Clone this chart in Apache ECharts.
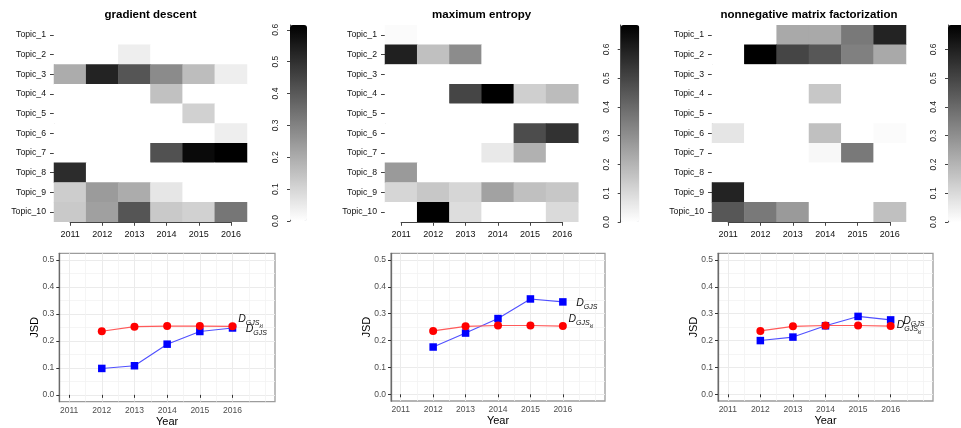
<!DOCTYPE html>
<html><head><meta charset="utf-8">
<script src="https://cdn.jsdelivr.net/npm/echarts@6/dist/echarts.min.js"></script>
<style>html,body{margin:0;padding:0;background:#fff}#c{width:961px;height:428px}</style>
</head><body><div id="c"></div>
<script>
// ---------- data ----------
const years = ['2011','2012','2013','2014','2015','2016'];
const topics = ['Topic_1','Topic_2','Topic_3','Topic_4','Topic_5','Topic_6','Topic_7','Topic_8','Topic_9','Topic_10'];
const titles = ['gradient descent','maximum entropy','nonnegative matrix factorization'];

// rows = topics, columns = years
const gdMatrix = [
  [0,0,0,0,0,0],
  [0,0,0.04,0,0,0],
  [0.20,0.53,0.41,0.28,0.16,0.04],
  [0,0,0,0.15,0,0],
  [0,0,0,0,0.11,0],
  [0,0,0,0,0,0.04],
  [0,0,0,0.42,0.59,0.615],
  [0.51,0,0,0,0,0],
  [0.12,0.24,0.20,0.06,0,0],
  [0.13,0.23,0.41,0.13,0.11,0.33]
];
const meMatrix = [
  [0.01,0,0,0,0,0],
  [0.60,0.17,0.31,0,0,0],
  [0,0,0,0,0,0],
  [0,0,0.50,0.685,0.13,0.18],
  [0,0,0,0,0,0],
  [0,0,0,0,0.48,0.55],
  [0,0,0,0.06,0.21,0],
  [0.27,0,0,0,0,0],
  [0.11,0.15,0.11,0.25,0.17,0.15],
  [0,0.685,0.09,0,0,0.10]
];
const nmfMatrix = [
  [0,0,0.23,0.23,0.36,0.59],
  [0,0.685,0.50,0.45,0.34,0.23],
  [0,0,0,0,0,0],
  [0,0,0,0.15,0,0],
  [0,0,0,0,0,0],
  [0.07,0,0,0.17,0,0.01],
  [0,0,0,0.02,0.36,0],
  [0,0,0,0,0,0],
  [0.59,0,0,0,0,0],
  [0.45,0.36,0.27,0,0,0.17]
];
const colorMax = [0.615, 0.685, 0.685];
const colorTicks = [0,0.1,0.2,0.3,0.4,0.5,0.6];

const jsdYears = [2012,2013,2014,2015,2016];
const gdJSD  = [0.098,0.108,0.188,0.235,0.248];
const gdKL   = [0.236,0.253,0.255,0.255,0.254];
const meJSD  = [0.176,0.228,0.282,0.355,0.344];
const meKL   = [0.236,0.253,0.256,0.256,0.254];
const nmfJSD = [0.200,0.213,0.255,0.290,0.277];
const nmfKL  = [0.236,0.253,0.256,0.256,0.254];
const yearTicks = [2011,2012,2013,2014,2015,2016];
const yearMinor = [2011.5,2012.5,2013.5,2014.5,2015.5,2016.5,2017];
const jsdTicks = [0,0.1,0.2,0.3,0.4,0.5];
const jsdMinor = [0.05,0.15,0.25,0.35,0.45];
// label anchor points (data coordinates) for D_GJS and D_GJS_kl
const gdAnn  = {plain:[2016.73,0.241], kl:[2016.55,0.278]};
const meAnn  = {plain:[2016.74,0.337], kl:[2016.55,0.277]};
const nmfAnn = {plain:[2016.71,0.272], kl:[2016.56,0.254]};

// ---------- layout ----------
const FONT = 'Liberation Sans, Arial, Helvetica, sans-serif';
const heatLayouts = [
  {cellLeft:54,  cellTop:25.2, cellW:193,   cellH:196.6, barLeft:290,   barTop:25, barW:17,   barH:196},
  {cellLeft:385, cellTop:25.2, cellW:193.3, cellH:196.6, barLeft:620.7, barTop:25, barW:18.6, barH:197},
  {cellLeft:712, cellTop:25.2, cellW:194,   cellH:196.6, barLeft:948,   barTop:25, barW:19,   barH:197}
];
const lineLayouts = [
  {left:59.3, top:253.3, width:215.7, height:148.3, xmin:2010.7, xmax:2017.3},
  {left:391,  top:253.3, width:214,   height:147.7, xmin:2010.7, xmax:2017.3},
  {left:718,  top:253.3, width:215,   height:147.7, xmin:2010.7, xmax:2017.3}
];

const grid=[], xAxis=[], yAxis=[], series=[], visualMap=[], graphic=[];

function addHeat(idx, matrix){
  const L = heatLayouts[idx];
  const maxVal = colorMax[idx];
  // cells
  let gi = grid.length;
  grid.push({left:L.cellLeft, top:L.cellTop, width:L.cellW, height:L.cellH});
  xAxis.push({type:'category', gridIndex:gi, data:years, show:false});
  yAxis.push({type:'category', gridIndex:gi, data:topics, inverse:true, show:false});
  const data=[];
  matrix.forEach((row,r)=>row.forEach((v,c)=>data.push([c,r,v])));
  const si = series.length;
  series.push({type:'heatmap', xAxisIndex:xAxis.length-1, yAxisIndex:yAxis.length-1, data,
    itemStyle:{borderWidth:0}, emphasis:{disabled:true}, silent:true});
  visualMap.push({type:'continuous', min:0, max:maxVal, seriesIndex:si, orient:'vertical',
    inRange:{color:['#ffffff','#000000']}, calculable:false, left:L.barLeft, top:L.barTop,
    itemWidth:L.barW, itemHeight:L.barH, padding:0, text:null, hoverLink:false});
  // axes in R style (line from first to last tick)
  const cw = L.cellW/years.length, rh = L.cellH/topics.length;
  gi = grid.length;
  grid.push({left:L.cellLeft+cw/2, top:L.cellTop+rh/2, width:L.cellW-cw, height:L.cellH-rh});
  const axLine = {show:true, lineStyle:{color:'#444', width:1}};
  xAxis.push({type:'category', gridIndex:gi, data:years, boundaryGap:false, position:'bottom', offset:rh/2,
    axisLine:axLine, axisTick:{show:true, length:4, interval:0, lineStyle:{color:'#444'}},
    axisLabel:{interval:0, fontSize:9, color:'#111', margin:8, fontFamily:FONT}, splitLine:{show:false}});
  yAxis.push({type:'category', gridIndex:gi, data:topics, inverse:true, boundaryGap:false, position:'left', offset:cw/2,
    axisLine:axLine, axisTick:{show:true, length:4, interval:0, lineStyle:{color:'#444'}},
    axisLabel:{interval:0, fontSize:8.7, color:'#111', margin:8, fontFamily:FONT}, splitLine:{show:false}});
  // colour bar axis
  gi = grid.length;
  grid.push({left:L.barLeft, top:L.barTop, width:L.barW, height:L.barH});
  xAxis.push({type:'value', gridIndex:gi, min:0, max:1, show:false});
  yAxis.push({type:'value', gridIndex:gi, min:0, max:maxVal, position:'left',
    axisLine:{show:true, lineStyle:{color:'#444', width:1}},
    axisTick:{show:true, length:3, customValues:colorTicks, lineStyle:{color:'#444'}},
    axisLabel:{customValues:colorTicks, rotate:90, fontSize:8.5, color:'#222', margin:9.5, fontFamily:FONT,
      formatter:v=>v.toFixed(1)},
    splitLine:{show:false}});
  graphic.push({type:'text', x:L.cellLeft+L.cellW/2, y:14.5, silent:true,
    style:{text:titles[idx], align:'center', verticalAlign:'middle', fontSize:11.5, fontWeight:'bold', fontFamily:FONT, fill:'#000'}});
}

const rich = {
  d:{fontSize:10.5, fontStyle:'italic', color:'#111', lineHeight:12, verticalAlign:'top', fontFamily:FONT},
  s:{fontSize:7, fontStyle:'italic', color:'#111', lineHeight:8, verticalAlign:'top', padding:[5.5,0,0,0], fontFamily:FONT},
  k:{fontSize:4.5, fontStyle:'italic', color:'#111', lineHeight:5, verticalAlign:'top', padding:[10.5,0,0,0], fontFamily:FONT}
};
function mark(coord, fmt){
  return {symbol:'circle', symbolSize:0, silent:true, animation:false,
    label:{show:true, position:'inside', formatter:fmt, rich, color:'#111'},
    data:[{coord}]};
}

function addLine(idx, jsd, kl, ann){
  const L = lineLayouts[idx];
  const gi = grid.length;
  grid.push({left:L.left, top:L.top, width:L.width, height:L.height, show:true, borderColor:'#9c9c9c', borderWidth:1.3, backgroundColor:'#fff'});
  const tickStyle = {color:'#333', width:1};
  xAxis.push({type:'value', gridIndex:gi, min:L.xmin, max:L.xmax, position:'bottom',
    name:'Year', nameLocation:'middle', nameGap:14, nameTextStyle:{fontSize:11, color:'#000', fontFamily:FONT, verticalAlign:'top'},
    axisLine:{show:false},
    axisTick:{show:true, length:3, customValues:yearTicks, lineStyle:tickStyle},
    axisLabel:{customValues:yearTicks, fontSize:8.5, color:'#4d4d4d', margin:4.5, fontFamily:FONT, formatter:v=>String(Math.round(v))},
    splitLine:{show:true, lineStyle:{color:'#ebebeb', width:1}}});
  const xMajor = xAxis.length-1;
  xAxis.push({type:'value', gridIndex:gi, min:L.xmin, max:L.xmax, position:'top',
    axisLine:{show:false}, axisTick:{show:false, customValues:yearMinor}, axisLabel:{show:false, customValues:yearMinor},
    splitLine:{show:true, lineStyle:{color:'#f3f3f3', width:0.8}}});
  yAxis.push({type:'value', gridIndex:gi, min:-0.025, max:0.525, position:'left',
    name:'JSD', nameLocation:'middle', nameGap:19, nameRotate:90, nameMoveOverlap:false,
    nameTextStyle:{fontSize:11, color:'#000', fontFamily:FONT},
    axisLine:{show:true, lineStyle:{color:'#6a6a6a', width:1.3}},
    axisTick:{show:true, length:3, customValues:jsdTicks, lineStyle:tickStyle},
    axisLabel:{customValues:jsdTicks, fontSize:8.5, color:'#4d4d4d', margin:5, fontFamily:FONT, formatter:v=>v.toFixed(1)},
    splitLine:{show:true, lineStyle:{color:'#ebebeb', width:1}}});
  const yMajor = yAxis.length-1;
  yAxis.push({type:'value', gridIndex:gi, min:-0.025, max:0.525, position:'right',
    axisLine:{show:false}, axisTick:{show:false, customValues:jsdMinor}, axisLabel:{show:false, customValues:jsdMinor},
    splitLine:{show:true, lineStyle:{color:'#f3f3f3', width:0.8}}});
  series.push({type:'line', xAxisIndex:xMajor, yAxisIndex:yMajor, data:jsdYears.map((y,i)=>[y,jsd[i]]),
    symbol:'rect', symbolSize:7.5, itemStyle:{color:'#0000ff'}, lineStyle:{color:'#5050ff', width:1.1},
    emphasis:{disabled:true}, silent:true, z:3,
    markPoint:mark(ann.plain, '{d|D}{s|GJS}')});
  series.push({type:'line', xAxisIndex:xMajor, yAxisIndex:yMajor, data:jsdYears.map((y,i)=>[y,kl[i]]),
    symbol:'circle', symbolSize:8, itemStyle:{color:'#ff0000'}, lineStyle:{color:'#ff5a5a', width:1.1},
    emphasis:{disabled:true}, silent:true, z:4,
    markPoint:mark(ann.kl, '{d|D}{s|GJS}{k|kl}')});
}

addHeat(0, gdMatrix);
addHeat(1, meMatrix);
addHeat(2, nmfMatrix);
addLine(0, gdJSD, gdKL, gdAnn);
addLine(1, meJSD, meKL, meAnn);
addLine(2, nmfJSD, nmfKL, nmfAnn);

const chart = echarts.init(document.getElementById('c'));
chart.setOption({animation:false, backgroundColor:'#fff', textStyle:{fontFamily:FONT},
  grid, xAxis, yAxis, series, visualMap, graphic});
</script></body></html>
